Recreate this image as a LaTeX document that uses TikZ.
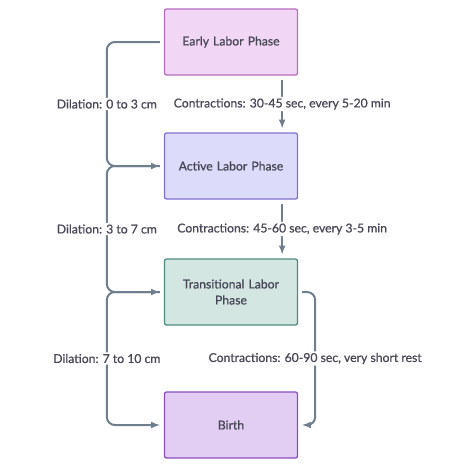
\documentclass[tikz,border=0pt]{standalone}
\usepackage{fontspec}
\setmainfont{Lato}[FakeBold=0.7]
\usepackage{tikz}
\definecolor{txtgray}{HTML}{474756}
\definecolor{linegray}{HTML}{6F7F8D}
\definecolor{earlyfill}{HTML}{F2D6F5}
\definecolor{earlydraw}{HTML}{B86CC0}
\definecolor{activefill}{HTML}{DCDBFA}
\definecolor{activedraw}{HTML}{7F72D0}
\definecolor{transfill}{HTML}{D3E6E2}
\definecolor{transdraw}{HTML}{4F8C80}
\definecolor{birthfill}{HTML}{E2CDF3}
\definecolor{birthdraw}{HTML}{8C4DBE}
\tikzset{
    phase/.style={rectangle, rounded corners=2pt, line width=1.3pt,
    	minimum width=133pt, minimum height=66pt, text width=125pt,
    	align=center, text=txtgray, font=\fontsize{12.2}{16}\selectfont},
    flow/.style={draw=linegray, line width=2pt, rounded corners=8pt,
    	-latex, shorten <=4pt, shorten >=4pt},
    lbl/.style={fill=white, inner sep=1.5pt, text=txtgray,
    	font=\fontsize{12.2}{14}\selectfont}
}

\begin{document}
\begin{tikzpicture}[x=1pt, y=-1pt]
	\useasboundingbox (0,0) rectangle (474,474);
	\node (early) [phase, fill=earlyfill, draw=earlydraw] at (231,42) {Early Labor Phase};
	\node (active) [phase, fill=activefill, draw=activedraw] at (231,166) {Active Labor Phase};
	\node (trans) [phase, fill=transfill, draw=transdraw] at (231,292) {Transitional Labor\\Phase};
	\node (birth) [phase, fill=birthfill, draw=birthdraw] at (231,425) {Birth};

	% dilation, left side
	\draw[flow] (early.west) -- ++(-57,0) |- node[lbl, pos=0.25] {Dilation: 0 to 3 cm} (active.west);
	\draw[flow] (active.west) -- ++(-57,0) |- node[lbl, pos=0.25] {Dilation: 3 to 7 cm} (trans.west);
	\draw[flow] (trans.west) -- ++(-57,0) |- node[lbl, pos=0.25] {Dilation: 7 to 10 cm} (birth.west);

	% contractions, right side
	\draw[flow] ([xshift=-16pt]early.south east) -- node[lbl] {Contractions: 30-45 sec, every 5-20 min} ([xshift=-16pt]active.north east);
	\draw[flow] ([xshift=-16pt]active.south east) -- node[lbl] {Contractions: 45-60 sec, every 3-5 min} ([xshift=-16pt]trans.north east);
	\draw[flow] (trans.east) -- ++(17,0) |- node[lbl, pos=0.25] {Contractions: 60-90 sec, very short rest} (birth.east);
\end{tikzpicture}
\end{document}
